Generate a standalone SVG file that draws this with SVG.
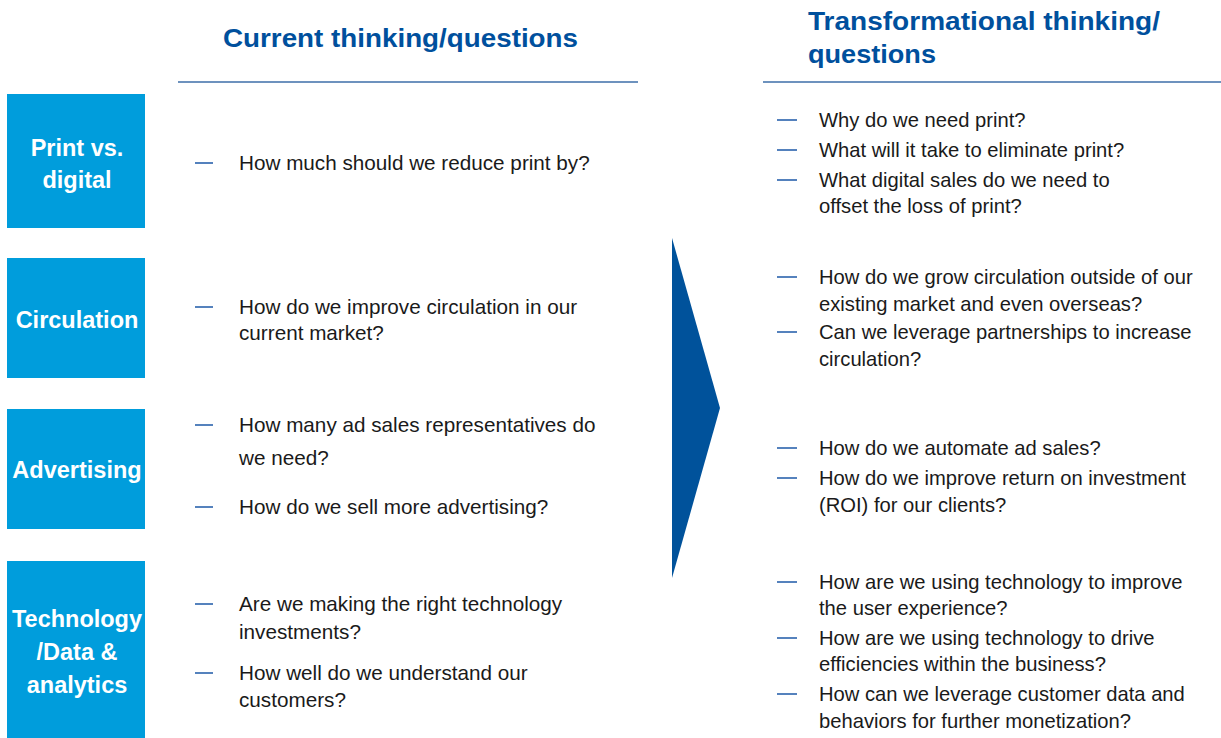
<svg xmlns="http://www.w3.org/2000/svg" width="1221" height="738" viewBox="0 0 1221 738">
<style>
.hdr{font-family:"Liberation Sans",Arial,sans-serif;font-weight:bold;font-size:26px;fill:#00509d}
.box{fill:#009ddc}
.lbl{font-family:"Liberation Sans",Arial,sans-serif;font-weight:bold;font-size:23.5px;fill:#ffffff;text-anchor:middle}
.lt{font-family:"Liberation Sans",Arial,sans-serif;font-size:20.7px;fill:#1a1a1a}
.rt{font-family:"Liberation Sans",Arial,sans-serif;font-size:20.2px;fill:#1a1a1a}
.dash{stroke:#2a62ad;stroke-width:1.6}
.rule{stroke:#3c6ea8;stroke-width:1.6}
</style>
<rect width="1221" height="738" fill="#ffffff"/>
<g id="header-left">
<text class="hdr" x="223" y="47" textLength="355" lengthAdjust="spacingAndGlyphs">Current thinking/questions</text>
<line class="rule" x1="178" y1="82" x2="638" y2="82"/>
</g>
<g id="header-right">
<text class="hdr" x="808" y="30" textLength="352" lengthAdjust="spacingAndGlyphs">Transformational thinking/</text>
<text class="hdr" x="808" y="63" textLength="128" lengthAdjust="spacingAndGlyphs">questions</text>
<line class="rule" x1="763" y1="82" x2="1221" y2="82"/>
</g>
<g id="print-digital">
<rect class="box" x="7" y="94" width="138" height="134"/>
<text class="lbl" x="77" y="156">Print vs.</text>
<text class="lbl" x="77" y="188">digital</text>
</g>
<g id="circulation">
<rect class="box" x="7" y="258" width="138" height="120"/>
<text class="lbl" x="77" y="328">Circulation</text>
</g>
<g id="advertising">
<rect class="box" x="7" y="409" width="138" height="120"/>
<text class="lbl" x="77" y="478">Advertising</text>
</g>
<g id="technology">
<rect class="box" x="7" y="561" width="138" height="177"/>
<text class="lbl" x="77" y="627" textLength="130" lengthAdjust="spacingAndGlyphs">Technology</text>
<text class="lbl" x="77" y="660">/Data &amp;</text>
<text class="lbl" x="77" y="693">analytics</text>
</g>
<g id="current-print">
<line class="dash" x1="195" y1="163" x2="213" y2="163"/>
<text class="lt" x="239" y="170">How much should we reduce print by?</text>
</g>
<g id="current-circulation">
<line class="dash" x1="195" y1="307" x2="213" y2="307"/>
<text class="lt" x="239" y="314">How do we improve circulation in our</text>
<text class="lt" x="239" y="340">current market?</text>
</g>
<g id="current-advertising">
<line class="dash" x1="195" y1="425" x2="213" y2="425"/>
<text class="lt" x="239" y="432">How many ad sales representatives do</text>
<text class="lt" x="239" y="465">we need?</text>
<line class="dash" x1="195" y1="507" x2="213" y2="507"/>
<text class="lt" x="239" y="514">How do we sell more advertising?</text>
</g>
<g id="current-technology">
<line class="dash" x1="195" y1="604" x2="213" y2="604"/>
<text class="lt" x="239" y="611">Are we making the right technology</text>
<text class="lt" x="239" y="639">investments?</text>
<line class="dash" x1="195" y1="673" x2="213" y2="673"/>
<text class="lt" x="239" y="680">How well do we understand our</text>
<text class="lt" x="239" y="707">customers?</text>
</g>
<g id="connectors">
<polygon id="arrow" points="672,238 720,408 672,578" fill="#00529b"/>
</g>
<g id="transform-print">
<line class="dash" x1="777" y1="120" x2="797" y2="120"/>
<text class="rt" x="819" y="127">Why do we need print?</text>
<line class="dash" x1="777" y1="150" x2="797" y2="150"/>
<text class="rt" x="819" y="157">What will it take to eliminate print?</text>
<line class="dash" x1="777" y1="180" x2="797" y2="180"/>
<text class="rt" x="819" y="187">What digital sales do we need to</text>
<text class="rt" x="819" y="213">offset the loss of print?</text>
</g>
<g id="transform-circulation">
<line class="dash" x1="777" y1="277" x2="797" y2="277"/>
<text class="rt" x="819" y="284">How do we grow circulation outside of our</text>
<text class="rt" x="819" y="311">existing market and even overseas?</text>
<line class="dash" x1="777" y1="332" x2="797" y2="332"/>
<text class="rt" x="819" y="339">Can we leverage partnerships to increase</text>
<text class="rt" x="819" y="366">circulation?</text>
</g>
<g id="transform-advertising">
<line class="dash" x1="777" y1="448" x2="797" y2="448"/>
<text class="rt" x="819" y="455">How do we automate ad sales?</text>
<line class="dash" x1="777" y1="478" x2="797" y2="478"/>
<text class="rt" x="819" y="485">How do we improve return on investment</text>
<text class="rt" x="819" y="512">(ROI) for our clients?</text>
</g>
<g id="transform-technology">
<line class="dash" x1="777" y1="582" x2="797" y2="582"/>
<text class="rt" x="819" y="589">How are we using technology to improve</text>
<text class="rt" x="819" y="615">the user experience?</text>
<line class="dash" x1="777" y1="638" x2="797" y2="638"/>
<text class="rt" x="819" y="645">How are we using technology to drive</text>
<text class="rt" x="819" y="671">efficiencies within the business?</text>
<line class="dash" x1="777" y1="694" x2="797" y2="694"/>
<text class="rt" x="819" y="701">How can we leverage customer data and</text>
<text class="rt" x="819" y="728">behaviors for further monetization?</text>
</g>
</svg>
